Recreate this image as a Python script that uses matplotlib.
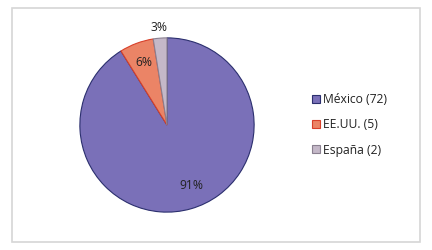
import matplotlib
matplotlib.use("Agg")
import matplotlib.pyplot as plt
from matplotlib.patches import Rectangle
import numpy as np

categories = ["México", "EE.UU.", "España"]
counts = [72, 5, 2]
colors = ["#7a70b8", "#eb8466", "#c4b8c8"]
edges = ["#2b2f6e", "#d8402a", "#8a8090"]

plt.rcParams['font.family'] = ['Open Sans', 'DejaVu Sans']

fig = plt.figure(figsize=(4.32, 2.5), dpi=100)
fig.patch.set_facecolor("white")
fig.patches.append(Rectangle((12/432, 1-242/250), 408/432, 234/250,
                             transform=fig.transFigure, fill=False,
                             edgecolor="#d6d6d6", linewidth=1.2))

ax = fig.add_axes([(167-89)/432, (125-88)/250, 178/432, 176/250])
labels = [f"{c} ({n})" for c, n in zip(categories, counts)]
wedges, texts, autotexts = ax.pie(counts, colors=colors, startangle=90,
                                   counterclock=False, autopct="%.0f%%",
                                   pctdistance=0.76,
                                   wedgeprops=dict(linewidth=0.8),
                                   textprops=dict(fontsize=8.7, color="#222222"))
for w, ec in zip(wedges, edges):
    w.set_edgecolor(ec)
# move small-slice label outside
w = wedges[2]
ang = np.deg2rad((w.theta1 + w.theta2) / 2)
autotexts[2].set_position((1.12 * np.cos(ang), 1.12 * np.sin(ang)))
w = wedges[0]
ang = np.deg2rad((w.theta1 + w.theta2) / 2) + np.deg2rad(6)
autotexts[0].set_position((0.75 * np.cos(ang), 0.75 * np.sin(ang)))
for t in autotexts:
    t.set_clip_on(False)
ax.set_xlim(-1.01, 1.01)
ax.set_ylim(-1.01, 1.01)
ax.set_aspect("equal")

leg = fig.legend(wedges, labels, loc="center left",
                 bbox_to_anchor=(301/432, 0.5), frameon=False,
                 fontsize=8.7, handlelength=0.65, handleheight=0.65,
                 handletextpad=0.25, labelspacing=1.0)
for t in leg.get_texts():
    t.set_color("#222222")

fig.savefig("out.png", dpi=100)
